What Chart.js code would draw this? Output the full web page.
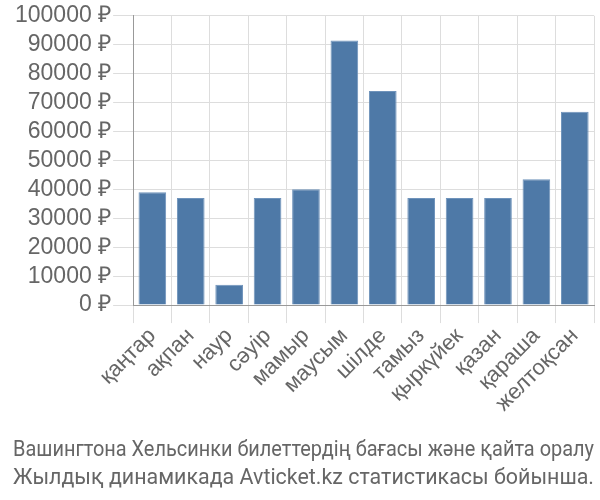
<!DOCTYPE html>
<html>
<head>
<meta charset="utf-8">
<script src="https://cdn.jsdelivr.net/npm/chart.js@4"></script>
<style>
  body { margin: 0; background: #fff; }
  #wrap { width: 600px; height: 500px; }
</style>
</head>
<body>
<div id="wrap"><canvas id="priceChart"></canvas></div>
<script>
const months = ['қаңтар', 'ақпан', 'наур', 'сәуір', 'мамыр', 'маусым', 'шілде', 'тамыз', 'қыркүйек', 'қазан', 'қараша', 'желтоқсан'];
const prices = [39000, 37000, 7000, 37000, 40000, 91500, 74000, 37000, 37000, 37000, 43500, 66800];
const captionLines = ['Вашингтона Хельсинки билеттердің бағасы және қайта оралу', 'Жылдық динамикада Avticket.kz статистикасы бойынша.'];

document.addEventListener('DOMContentLoaded', function () {
    const priceChart = new Chart(document.getElementById('priceChart'), {
        type: 'bar',
        data: {
            labels: months,
            datasets: [{
                data: prices,
                backgroundColor: '#4e79a7',
                borderColor: '#6f93bb',
                borderWidth: 1
            }]
        },
        options: {
            responsive: true,
            maintainAspectRatio: false,
            animation: false,
            layout: { padding: { top: 2, right: 6, left: 13, bottom: 0 } },
            plugins: {
                legend: { display: false },
                tooltip: { enabled: false },
                title: {
                    display: true,
                    position: 'bottom',
                    align: 'start',
                    text: captionLines,
                    color: '#666',
                    font: { family: 'Liberation Sans Narrow, Roboto, sans-serif', size: 22, weight: 'normal', lineHeight: 1.3 },
                    padding: { top: 19, bottom: 7 }
                }
            },
            scales: {
                x: {
                    grid: { color: '#ddd', tickLength: 18 },
                    border: { color: '#999' },
                    ticks: {
                        color: '#666',
                        font: { family: 'Liberation Sans, sans-serif', size: 22 },
                        maxRotation: 45,
                        minRotation: 45,
                        autoSkip: false,
                        padding: 0
                    }
                },
                y: {
                    min: 0,
                    max: 100000,
                    grid: { color: '#ddd', tickLength: 20 },
                    border: { color: '#999' },
                    ticks: {
                        stepSize: 10000,
                        autoSkip: false,
                        color: '#666',
                        padding: 2,
                        font: { family: 'Liberation Sans, sans-serif', size: 23 },
                        callback: function (v) { return v + ' ₽'; }
                    }
                }
            }
        }
    });
});
</script>
</body>
</html>
